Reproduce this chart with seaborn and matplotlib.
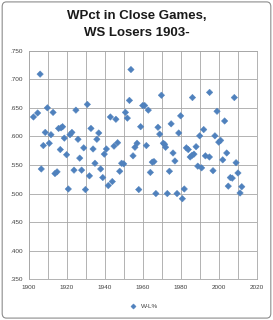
import numpy as np
import matplotlib
matplotlib.use("Agg")
import matplotlib.pyplot as plt
import seaborn as sns
import pandas as pd
from matplotlib.patches import FancyBboxPatch
from matplotlib.ticker import FuncFormatter, MultipleLocator

# values
years = [1902.6, 1904.8, 1906.1, 1906.7, 1907.8, 1908.8, 1909.9, 1910.9, 1911.8, 1912.9,
         1913.9, 1915.0, 1915.8, 1916.7, 1917.1, 1917.9, 1918.8, 1920.0, 1920.9, 1921.8,
         1922.8, 1923.9, 1924.9, 1926.0, 1926.9, 1927.9, 1929.0, 1929.9, 1930.9, 1932.0,
         1932.8, 1933.9, 1934.9, 1935.9, 1936.9, 1937.9, 1939.0, 1939.8, 1940.9, 1941.9,
         1943.0, 1944.0, 1944.9, 1945.9, 1946.8, 1947.9, 1948.9, 1950.0, 1950.9, 1951.9,
         1953.0, 1953.8, 1954.9, 1955.9, 1957.0, 1957.9, 1958.9, 1960.0, 1961.0, 1961.9,
         1962.9, 1964.0, 1965.0, 1965.9, 1966.9, 1968.0, 1968.9, 1969.8, 1970.8, 1971.5,
         1972.0, 1972.9, 1974.0, 1974.9, 1975.9, 1976.9, 1978.0, 1978.9, 1979.9, 1980.8,
         1981.8, 1982.9, 1983.9, 1984.9, 1985.9, 1986.1, 1986.9, 1988.0, 1988.9, 1989.9,
         1990.9, 1992.0, 1992.9, 1995.0, 1995.1, 1996.9, 1997.9, 1999.0, 1999.9, 2000.9,
         2002.0, 2003.0, 2004.1, 2004.9, 2006.0, 2007.0, 2008.1, 2009.0, 2010.0, 2011.1,
         2012.0]
wpct = [0.634, 0.641, 0.709, 0.543, 0.584, 0.607, 0.650, 0.588, 0.603, 0.642,
        0.535, 0.538, 0.614, 0.577, 0.615, 0.617, 0.597, 0.568, 0.508, 0.603,
        0.607, 0.541, 0.646, 0.595, 0.562, 0.541, 0.580, 0.507, 0.656, 0.531,
        0.614, 0.578, 0.553, 0.595, 0.606, 0.543, 0.528, 0.569, 0.578, 0.514,
        0.634, 0.521, 0.583, 0.630, 0.589, 0.539, 0.553, 0.552, 0.642, 0.632,
        0.663, 0.717, 0.566, 0.581, 0.588, 0.507, 0.617, 0.654, 0.654, 0.584,
        0.646, 0.537, 0.555, 0.556, 0.500, 0.616, 0.604, 0.672, 0.588, 0.586,
        0.581, 0.500, 0.539, 0.622, 0.571, 0.557, 0.500, 0.606, 0.636, 0.491,
        0.508, 0.580, 0.577, 0.564, 0.567, 0.668, 0.569, 0.582, 0.548, 0.601,
        0.545, 0.612, 0.566, 0.564, 0.677, 0.540, 0.601, 0.644, 0.590, 0.593,
        0.559, 0.627, 0.571, 0.513, 0.528, 0.527, 0.668, 0.554, 0.536, 0.501,
        0.512]

df = pd.DataFrame({"Year": years, "W-L%": wpct})
df["series"] = "W-L%"

sns.set_style("white")
plt.rcParams['font.family'] = ['Liberation Sans', 'DejaVu Sans']

fig = plt.figure(figsize=(2.73, 3.2), dpi=100)
ax = fig.add_axes([0.1044, 0.1272, 0.8370, 0.7144])

blue = "#4F81BD"
grid = "#A6A6A6"
sns.scatterplot(data=df, x="Year", y="W-L%", hue="series", palette=[blue],
                marker="D", s=11, edgecolor=blue, linewidth=0.3, ax=ax, zorder=3)

ax.set_xlim(1900, 2020)
ax.set_ylim(0.35, 0.75)
ax.xaxis.set_major_locator(MultipleLocator(20))
ax.xaxis.set_minor_locator(MultipleLocator(10))
ax.yaxis.set_major_locator(MultipleLocator(0.05))
ax.yaxis.set_major_formatter(FuncFormatter(lambda v, p: ("%.3f" % v).lstrip("0")))
ax.grid(True, which="both", color=grid, linewidth=0.6)
ax.set_axisbelow(True)
for sp in ax.spines.values():
    sp.set_color(grid)
    sp.set_linewidth(0.6)
ax.tick_params(which="both", length=2, width=0.6, color=grid, labelsize=4.6,
               labelcolor="#404040", pad=2)
ax.set_xlabel("")
ax.set_ylabel("")

leg = ax.legend(loc="upper center", bbox_to_anchor=(0.5, -0.08), frameon=False,
                fontsize=4.6, handletextpad=0.2, markerscale=0.8)
for t in leg.get_texts():
    t.set_color("#404040")

fig.text(0.5, 0.951, "WPct in Close Games,", ha="center", va="center",
         fontsize=9.5, fontweight="bold", color="#1a1a1a")
fig.text(0.5, 0.896, "WS Losers 1903-", ha="center", va="center",
         fontsize=9.5, fontweight="bold", color="#1a1a1a")

border = FancyBboxPatch((0.008, 0.006), 0.984, 0.988, boxstyle="round,pad=0,rounding_size=0.015",
                        transform=fig.transFigure, fill=False, edgecolor="#8C8C8C", linewidth=0.8)
fig.patches.append(border)

fig.savefig("out.png", dpi=100)
